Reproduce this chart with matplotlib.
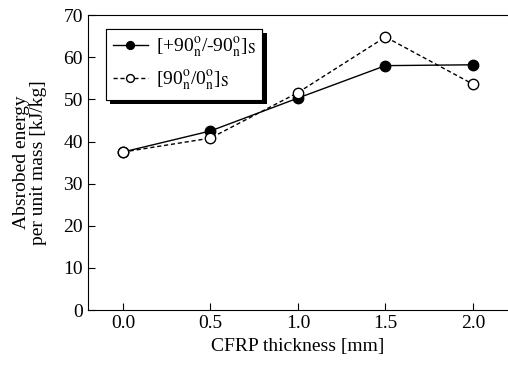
import matplotlib
matplotlib.use("Agg")
import matplotlib.pyplot as plt
import matplotlib.patheffects as pe

plt.rcParams['font.family'] = ['Liberation Serif', 'DejaVu Serif']
plt.rcParams['mathtext.fontset'] = 'stix'

thickness = [0.0, 0.5, 1.0, 1.5, 2.0]
energy_pm90 = [37.5, 42.5, 50.3, 58.0, 58.2]
energy_90_0 = [37.5, 40.8, 51.6, 64.8, 53.6]

fig = plt.figure(figsize=(5.08, 3.67), dpi=100)
ax = fig.add_axes([0.173, 0.155, 0.827, 0.804])

ax.plot(thickness, energy_pm90, '-', color='black', lw=1.0, marker='o',
        ms=7.5, mfc='black', mec='black',
        label=r'[+90$^{\rm o}_{\rm n}$/-90$^{\rm o}_{\rm n}$]$_{\rm S}$')
ax.plot(thickness, energy_90_0, '--', color='black', lw=1.0, dashes=(3, 2),
        marker='o', ms=7.5, mfc='white', mec='black',
        label=r'[90$^{\rm o}_{\rm n}$/0$^{\rm o}_{\rm n}$]$_{\rm S}$')

ax.set_xlim(-0.2, 2.2)
ax.set_ylim(0, 70)
ax.set_xticks(thickness)
ax.set_xticklabels(['0.0', '0.5', '1.0', '1.5', '2.0'])
ax.set_yticks(range(0, 71, 10))
ax.tick_params(direction='in', labelsize=14, length=5, top=False, right=False)
ax.spines['right'].set_visible(False)

ax.set_xlabel('CFRP thickness [mm]', fontsize=14)
ax.set_ylabel('Absrobed energy\nper unit mass [kJ/kg]', fontsize=14,
              linespacing=1.0, labelpad=12)

leg = ax.legend(loc='upper left', bbox_to_anchor=(0.02, 0.985), fontsize=14,
                fancybox=False, framealpha=1, edgecolor='black',
                handlelength=1.8, handletextpad=0.4, borderpad=0.35,
                labelspacing=0.45, markerscale=0.75)
leg.get_frame().set_linewidth(0.8)
leg.get_frame().set_path_effects([
    pe.withSimplePatchShadow(offset=(3, -3), shadow_rgbFace='black', alpha=1.0),
    pe.Normal()])

fig.savefig('out.png', dpi=100)
